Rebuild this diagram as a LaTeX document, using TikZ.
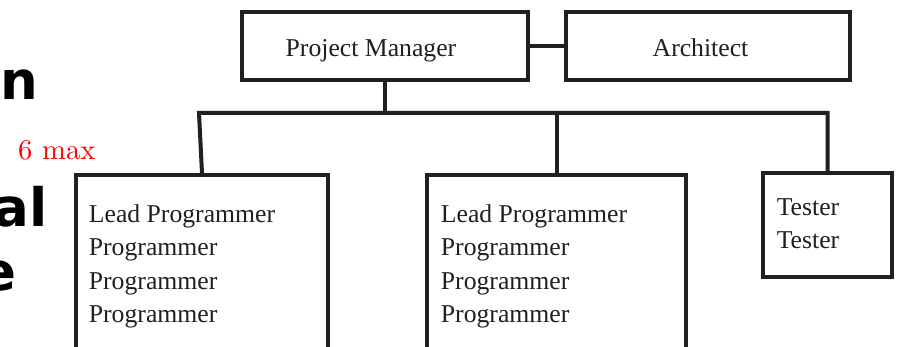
\documentclass[tikz,border=0pt]{standalone}
\usepackage{fontspec}
\newfontfamily\tnr{Liberation Serif}
\newfontfamily\dvs{DejaVu Sans}
\newfontfamily\lmten{lmroman10-regular.otf}
\definecolor{ink}{HTML}{231F20}
\begin{document}
\begin{tikzpicture}[x=1pt,y=-1pt,
  box/.style={draw=ink, line width=4pt, inner sep=0pt, line join=miter},
  conn/.style={draw=ink, line width=4pt, line join=miter},
  txt/.style={font=\tnr\fontsize{25.7}{33.4}\selectfont, text=ink, inner sep=0pt, align=left},
  boldtxt/.style={font=\dvs\bfseries\fontsize{53}{60}\selectfont, text=black, inner sep=0pt},
  redtxt/.style={font=\lmten\fontsize{28.7}{30}\selectfont, text=red, inner sep=0pt}]
\useasboundingbox (0,0) rectangle (897,347);
\clip (0,0) rectangle (897,347);
\fill[white] (0,0) rectangle (897,347);

% left slide fragments
\node[boldtxt, anchor=base west] (b1) at (0,100) {n};
\node[boldtxt, anchor=base west] (b2) at (-6.6,227) {al};
\node[boldtxt, anchor=base west] (b3) at (-20,291) {e};
\node[redtxt, anchor=base west] (mx) at (18,160) {6 max};

% boxes
\node[box, minimum width=286pt, minimum height=68pt] (pm) at (385,46) {};
\node[box, minimum width=284pt, minimum height=68pt] (arch) at (708,46) {};
\node[box, minimum width=252pt, minimum height=250pt, anchor=north] (lp1) at (202,173) {};
\node[box, minimum width=259pt, minimum height=250pt, anchor=north] (lp2) at (556.5,173) {};
\node[box, minimum width=129pt, minimum height=104pt, anchor=north] (tst) at (827.5,171) {};

% connectors
\coordinate (busL) at (199,113);
\coordinate (busR) at (827.5,113);
\draw[conn] (pm.east) -- (arch.west);
\draw[conn] (pm.south) -- (pm.south |- busL);
\draw[conn] (lp1.north) -- (busL) -- (busR) -- (tst.north);
\draw[conn] (lp2.north) -- (lp2.north |- busL);

% texts
\node[txt, anchor=base west] (pmt) at (285.5,57) {Project Manager};
\node[txt, anchor=base west] (archt) at (652.5,57) {Architect};
\node[txt, anchor=north west] (lp1t) at (88.7,204.4) {Lead Programmer\\Programmer\\Programmer\\Programmer};
\node[txt, anchor=north west] (lp2t) at (440.7,204.4) {Lead Programmer\\Programmer\\Programmer\\Programmer};
\node[txt, anchor=north west] (tstt) at (776.6,198) {Tester\\Tester};
\end{tikzpicture}
\end{document}
